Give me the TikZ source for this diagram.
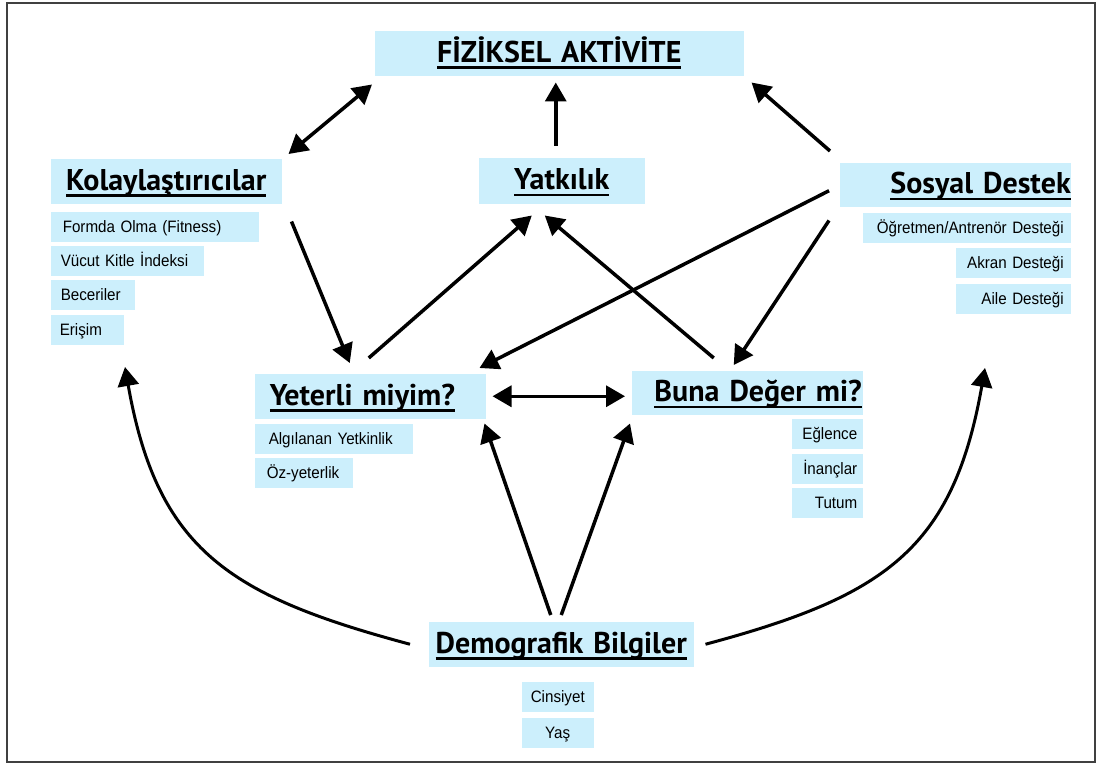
\documentclass[tikz,border=0pt]{standalone}
\usepackage{fontspec}
\setmainfont{Liberation Sans}[FakeStretch=0.92]
\newfontfamily\headfont{PT Sans}
\usetikzlibrary{arrows.meta}
\definecolor{boxblue}{RGB}{204,239,252}
\newcommand{\headText}[1]{\setbox0=\hbox{#1}\rlap{\rule[-6.5pt]{\wd0}{2.5pt}}\box0}

\begin{document}
\begin{tikzpicture}[x=1pt, y=-1pt, line width=3.5pt,
  >={Triangle[length=19pt, width=21pt]},
  head/.style={fill=boxblue, anchor=north west, inner ysep=0pt, minimum height=45pt,
    text height=24pt, text depth=6pt, font=\headfont\bfseries\fontsize{30}{34}\selectfont},
  item/.style={fill=boxblue, anchor=north west, inner ysep=0pt, minimum height=30pt,
    text height=12pt, text depth=0pt, font=\fontsize{16.5}{19}\selectfont}]
  \useasboundingbox (0,0) rectangle (1097,767);
  \draw[line width=1.2pt, black!75] (7,3) rectangle (1095,762);

  % Main boxes
  \node[head, text width=369pt, inner xsep=0pt, align=center] (fiz) at (373,29) {\headText{FİZİKSEL AKTİVİTE}};
  \node[head, text width=166pt, inner xsep=0pt, align=center, minimum height=46pt] (yat) at (477,156) {\headText{Yatkılık}};
  \node[head, text width=231pt, inner xsep=0pt, align=center] (kol) at (49,157) {\headText{Kolaylaştırıcılar}};
  \node[head, text width=231pt, inner xsep=0pt, align=right, minimum height=44pt] (sos) at (838,161) {\headText{Sosyal Destek}};
  \node[head, text width=201pt, inner xsep=15pt, align=left] (yet) at (253,372) {\headText{Yeterli miyim?}};
  \node[head, text width=229pt, inner xsep=1pt, align=right, minimum height=44pt] (buna) at (630,369) {\headText{Buna Değer mi?}};
  \node[head, text width=265pt, inner xsep=0pt, align=center] (demo) at (427,620) {\headText{Demografik Bilgiler}};

  % Item boxes
  \node[item, text width=184pt, inner xsep=12pt, align=left] (form) at (49,210) {Formda Olma (Fitness)};
  \node[item, text width=133pt, inner xsep=10pt, align=left] (vuc) at (49,244) {Vücut Kitle İndeksi};
  \node[item, text width=64pt, inner xsep=10pt, align=left] (bec) at (49,278) {Beceriler};
  \node[item, text width=55pt, inner xsep=9pt, align=left] (eri) at (49,313) {Erişim};
  \node[item, text width=194pt, inner xsep=7pt, align=right] (ogr) at (861,211) {Öğretmen/Antrenör Desteği};
  \node[item, text width=101pt, inner xsep=7pt, align=right] (akr) at (954,246) {Akran Desteği};
  \node[item, text width=101pt, inner xsep=7pt, align=right] (ail) at (954,282) {Aile Desteği};
  \node[item, text width=130pt, inner xsep=14pt, align=left] (alg) at (253,422) {Algılanan Yetkinlik};
  \node[item, text width=74pt, inner xsep=12pt, align=left] (oz) at (253,456) {Öz-yeterlik};
  \node[item, text width=60pt, inner xsep=5.5pt, align=right] (egl) at (790,417) {Eğlence};
  \node[item, text width=60pt, inner xsep=5.5pt, align=right] (ina) at (790,452) {İnançlar};
  \node[item, text width=60pt, inner xsep=5.5pt, align=right] (tut) at (790,486) {Tutum};
  \node[item, text width=72pt, inner xsep=0pt, align=center] (cin) at (520,680) {Cinsiyet};
  \node[item, text width=72pt, inner xsep=0pt, align=center] (yas) at (520,716) {Yaş};

  % Arrows
  \draw[<->] ([shift={(5pt,3pt)}]kol.north east) -- ([shift={(-1pt,-7pt)}]fiz.south west);
  \draw[->] ([shift={(-6pt,10pt)}]yat.north) -- ([shift={(-3.5pt,-5pt)}]fiz.south);
  \draw[->] ([shift={(-8pt,10pt)}]sos.north west) -- ([shift={(6pt,-5pt)}]fiz.south east);
  \draw[->] ([shift={(8pt,-16pt)}]kol.south east) -- ([shift={(-20.5pt,9pt)}]yet.north);
  \draw[->] ([shift={(-1.5pt,14pt)}]yet.north) -- ([shift={(-30pt,-10pt)}]yat.south);
  \draw[->] ([shift={(-33.5pt,11pt)}]buna.north) -- ([shift={(-17pt,-10pt)}]yat.south);
  \draw[->] ([shift={(-9pt,-6pt)}]sos.west) -- ([shift={(-8pt,4pt)}]yet.north east);
  \draw[->] ([shift={(-9pt,-12pt)}]sos.south west) -- ([shift={(-13.5pt,4pt)}]buna.north);
  \draw[<->] ([xshift=5pt]yet.east) -- ([xshift=-5pt]yet.east -| buna.west);
  \draw[->] ([shift={(-10.5pt,5pt)}]demo.north) -- ([shift={(-3pt,-3pt)}]yet.south east);
  \draw[->] ([shift={(0pt,5pt)}]demo.north) -- ([shift={(0pt,-7pt)}]buna.south west);

  % Curved arrows
  \coordinate (kolIn) at (125,367);
  \coordinate (sosIn) at (985,368);
  \draw[->, line width=3pt] ([xshift=-17pt]demo.west) to[out=165, in=-80, looseness=1.2] (kolIn);
  \draw[->, line width=3pt] ([xshift=10pt]demo.east) to[out=15, in=-100, looseness=1.2] (sosIn);
\end{tikzpicture}
\end{document}
